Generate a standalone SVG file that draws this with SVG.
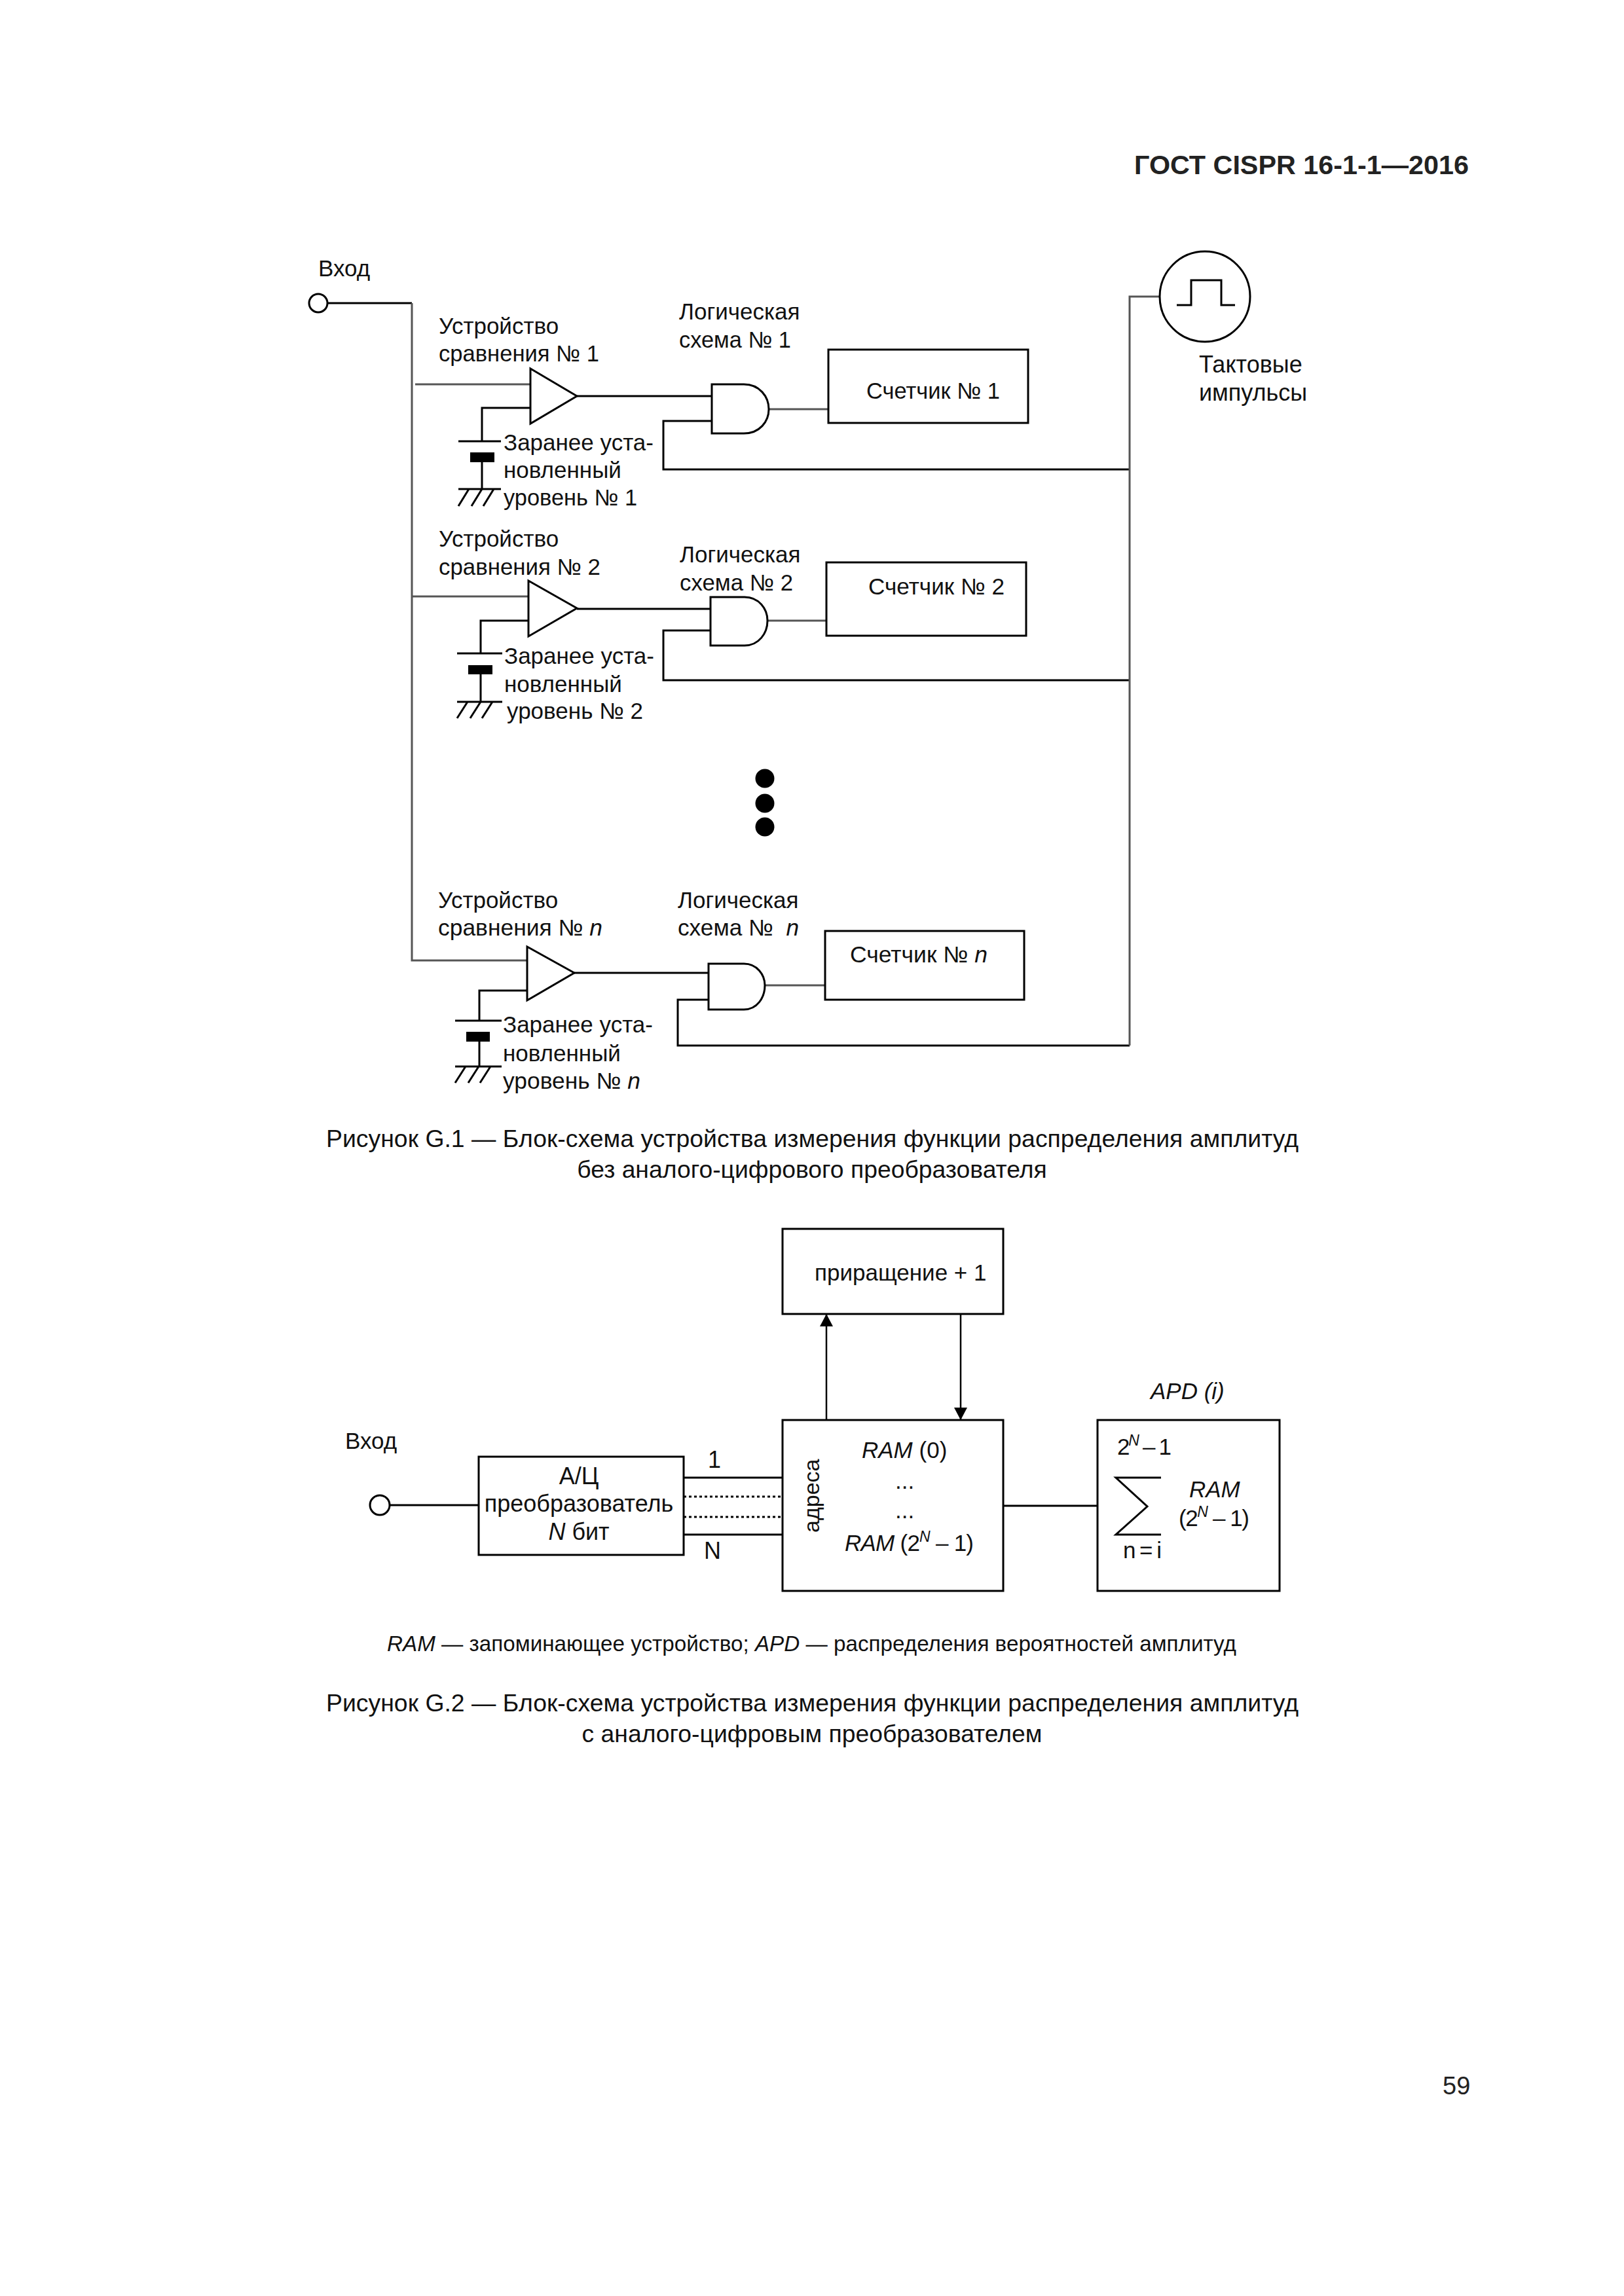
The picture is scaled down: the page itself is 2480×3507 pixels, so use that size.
<svg xmlns="http://www.w3.org/2000/svg" width="2480" height="3507" viewBox="0 0 2480 3507">
<style>
text{font-family:"Liberation Sans",Arial,sans-serif;font-size:35px;fill:#111}
.big{font-size:36px}
.cap{font-size:37.3px}
.note{font-size:33px}
.hdr{font-size:41px;font-weight:bold;fill:#222}
.num{font-size:38px;fill:#222}
.i{font-style:italic}
.sup{font-size:23px;font-style:italic}
.m{text-anchor:middle}
.shape{fill:#fff;stroke:#000;stroke-width:3}
.wire{fill:none;stroke:#000;stroke-width:3}
.soft{fill:none;stroke:#555;stroke-width:3}
.thin{fill:none;stroke:#000;stroke-width:2.5}
.dash{fill:none;stroke:#000;stroke-width:3;stroke-dasharray:4 4}
.solid{fill:#000;stroke:none}
</style>
<defs>
<marker id="arrow" markerUnits="userSpaceOnUse" markerWidth="20" markerHeight="20" refX="19" refY="10" orient="auto"><path d="M0 0L19 10L0 20Z" fill="#000"/></marker>
</defs>
<rect width="2480" height="3507" fill="#fff"/>
<text class="hdr" x="1732" y="266" textLength="511" lengthAdjust="spacingAndGlyphs">ГОСТ CISPR 16-1-1—2016</text>
<g id="connectors">
<path class="wire" d="M500 463H629"/>
<path class="soft" d="M629 463V1467H805"/>
<path class="soft" d="M634 587H810M629 911H807"/>
<path class="wire" d="M736 674V623H810M734 998V948H807M732 1559V1513H805"/>
<path class="wire" d="M736 706V747M734 1030V1072M732 1591V1629"/>
<path class="wire" d="M881 605H1087M881 930H1085M877 1486H1082"/>
<path class="soft" d="M1174 625H1265M1172 948H1262M1168 1505H1260"/>
<path class="wire" d="M1087 643H1013V717H1725M1085 963H1013V1039H1725M1082 1527H1035V1597H1725"/>
<path class="soft" d="M1771 453H1725V1597"/>
<path class="wire" d="M594 2299H731M1044 2257H1195M1044 2344H1195M1532 2300H1676"/>
<path class="dash" d="M1044 2286H1195M1044 2317H1195"/>
<path class="thin" marker-end="url(#arrow)" d="M1262 2169V2007"/>
<path class="thin" marker-end="url(#arrow)" d="M1467 2007V2169"/>
</g>
<g id="input-1"><circle class="shape" cx="486" cy="463" r="14"/><text x="486" y="422">Вход</text></g>
<g id="clock">
<circle class="shape" cx="1840" cy="453" r="69"/>
<path class="wire" d="M1797 466H1819V428H1865V466H1886"/>
<text class="big" x="1831" y="569">Тактовые</text><text class="big" x="1831" y="612">импульсы</text>
</g>
<g id="comparator-1">
<path class="shape" d="M810 563L881 605L810 647Z"/>
<text x="670" y="510">Устройство</text><text x="670" y="552" textLength="245" lengthAdjust="spacingAndGlyphs">сравнения № 1</text>
</g>
<g id="level-1">
<path class="wire" d="M700 674H765M700 747H765M716 747L700 773M736 747L720 773M754 747L738 773"/>
<rect class="solid" x="718" y="691" width="37" height="15"/>
<text x="769" y="688">Заранее уста-</text><text x="769" y="730">новленный</text><text x="769" y="772" textLength="204" lengthAdjust="spacingAndGlyphs">уровень № 1</text>
</g>
<g id="and-1">
<path class="shape" d="M1087 587H1136C1160 587 1174 606 1174 625C1174 644 1160 662 1136 662H1087Z"/>
<text x="1037" y="488">Логическая</text><text x="1037" y="531" textLength="171" lengthAdjust="spacingAndGlyphs">схема № 1</text>
</g>
<g id="counter-1"><rect class="shape" x="1265" y="534" width="305" height="112"/><text x="1323" y="609" textLength="204" lengthAdjust="spacingAndGlyphs">Счетчик № 1</text></g>
<g id="comparator-2">
<path class="shape" d="M807 887L881 929L807 972Z"/>
<text x="670" y="835">Устройство</text><text x="670" y="878" textLength="247" lengthAdjust="spacingAndGlyphs">сравнения № 2</text>
</g>
<g id="level-2">
<path class="wire" d="M698 998H767M698 1072H767M714 1072L698 1097M734 1072L718 1097M752 1072L736 1097"/>
<rect class="solid" x="715" y="1016" width="37" height="14"/>
<text x="770" y="1014">Заранее уста-</text><text x="770" y="1057">новленный</text><text x="774" y="1098" textLength="208" lengthAdjust="spacingAndGlyphs">уровень № 2</text>
</g>
<g id="and-2">
<path class="shape" d="M1085 912H1137C1159 912 1172 930 1172 948C1172 967 1159 986 1137 986H1085Z"/>
<text x="1038" y="859">Логическая</text><text x="1038" y="902" textLength="173" lengthAdjust="spacingAndGlyphs">схема № 2</text>
</g>
<g id="counter-2"><rect class="shape" x="1262" y="859" width="305" height="112"/><text x="1326" y="908" textLength="208" lengthAdjust="spacingAndGlyphs">Счетчик № 2</text></g>
<g id="dots"><circle class="solid" cx="1168" cy="1189" r="14.5"/><circle class="solid" cx="1168" cy="1227" r="14.5"/><circle class="solid" cx="1168" cy="1263" r="14.5"/></g>
<g id="comparator-n">
<path class="shape" d="M805 1446L877 1486L805 1528Z"/>
<text x="669" y="1387">Устройство</text><text x="669" y="1429" textLength="251" lengthAdjust="spacingAndGlyphs">сравнения № <tspan class="i">n</tspan></text>
</g>
<g id="level-n">
<path class="wire" d="M695 1559H766M695 1629H766M711 1629L695 1654M731 1629L715 1654M749 1629L733 1654"/>
<rect class="solid" x="712" y="1576" width="36" height="15"/>
<text x="768" y="1577">Заранее уста-</text><text x="768" y="1621">новленный</text><text x="768" y="1663" textLength="210" lengthAdjust="spacingAndGlyphs">уровень № <tspan class="i">n</tspan></text>
</g>
<g id="and-n">
<path class="shape" d="M1082 1472H1136C1156 1472 1168 1489 1168 1505C1168 1524 1156 1542 1136 1542H1082Z"/>
<text x="1035" y="1387">Логическая</text><text x="1035" y="1429" xml:space="preserve" textLength="185" lengthAdjust="spacingAndGlyphs">схема №  <tspan class="i">n</tspan></text>
</g>
<g id="counter-n"><rect class="shape" x="1260" y="1422" width="304" height="105"/><text x="1298" y="1470" textLength="210" lengthAdjust="spacingAndGlyphs">Счетчик № <tspan class="i">n</tspan></text></g>
<text class="cap" x="498" y="1752" textLength="1485" lengthAdjust="spacingAndGlyphs">Рисунок G.1 — Блок-схема устройства измерения функции распределения амплитуд</text>
<text class="cap m" x="1240" y="1799">без аналого-цифрового преобразователя</text>
<g id="input-2"><circle class="shape" cx="580" cy="2299" r="15"/><text x="527" y="2213">Вход</text></g>
<g id="adc">
<rect class="shape" x="731" y="2225" width="313" height="150"/>
<text class="m big" x="884" y="2267">А/Ц</text><text class="m big" x="884" y="2309">преобразователь</text><text class="m big" x="884" y="2352"><tspan class="i">N</tspan> бит</text>
</g>
<text class="big" x="1081" y="2242">1</text>
<text class="big" x="1075" y="2381">N</text>
<g id="increment"><rect class="shape" x="1195" y="1877" width="337" height="130"/><text x="1244" y="1956">приращение + 1</text></g>
<g id="ram">
<rect class="shape" x="1195" y="2169" width="337" height="261"/>
<text transform="translate(1251 2341) rotate(-90)" style="font-size:34px">адреса</text>
<text x="1316" y="2227"><tspan class="i">RAM</tspan> (0)</text>
<text x="1367" y="2274">...</text><text x="1367" y="2319">...</text>
<text x="1290" y="2369" textLength="197" lengthAdjust="spacing"><tspan class="i">RAM</tspan> (2<tspan class="sup" dy="-14">N</tspan><tspan dy="14"> – 1)</tspan></text>
</g>
<g id="apd">
<text class="i" x="1757" y="2137">APD (i)</text>
<rect class="shape" x="1676" y="2169" width="278" height="261"/>
<text x="1706" y="2222" textLength="83" lengthAdjust="spacing">2<tspan class="sup" dy="-14">N</tspan><tspan dy="14"> – 1</tspan></text>
<path class="wire" d="M1773 2257H1704L1752 2301L1704 2344H1773"/>
<text class="i" x="1816" y="2287">RAM</text>
<text x="1800" y="2331" textLength="108" lengthAdjust="spacing">(2<tspan class="sup" dy="-14">N</tspan><tspan dy="14"> – 1)</tspan></text>
<text x="1715" y="2380" textLength="59" lengthAdjust="spacing">n = i</text>
</g>
<text class="note" x="591" y="2522" textLength="1297" lengthAdjust="spacingAndGlyphs"><tspan class="i">RAM</tspan> — запоминающее устройство; <tspan class="i">APD</tspan> — распределения вероятностей амплитуд</text>
<text class="cap" x="498" y="2614" textLength="1485" lengthAdjust="spacingAndGlyphs">Рисунок G.2 — Блок-схема устройства измерения функции распределения амплитуд</text>
<text class="cap m" x="1240" y="2661">с аналого-цифровым преобразователем</text>
<text class="num" x="2203" y="3199">59</text>
</svg>
